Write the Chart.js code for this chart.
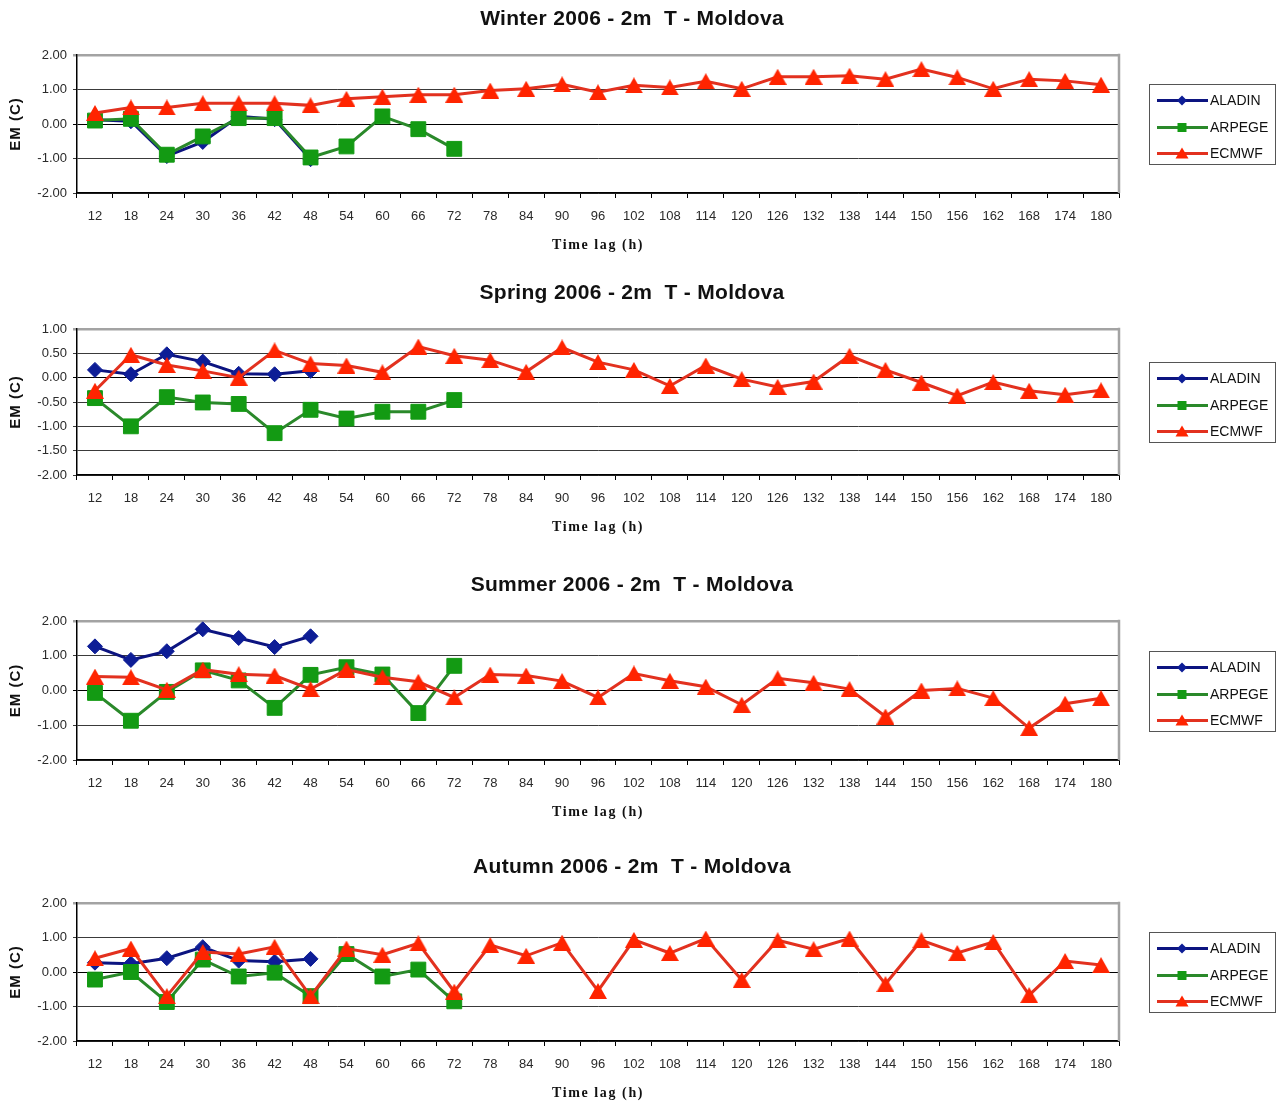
<!DOCTYPE html>
<html>
<head>
<meta charset="utf-8">
<title>2m T error by time lag - Moldova 2006</title>
<script src="https://cdn.jsdelivr.net/npm/chart.js@4/dist/chart.umd.min.js"></script>
<style>
  html, body { margin: 0; padding: 0; background: #fff; }
  #page { position: relative; width: 1279px; height: 1104px; overflow: hidden; background: #fff; }
  .panel { position: absolute; left: 0; width: 1279px; height: 276px; }
  .panel canvas { display: block; }
</style>
</head>
<body>
<div id="page">
  <div class="panel" id="panel0"><canvas id="chart0" width="1279" height="276"></canvas></div>
  <div class="panel" id="panel1"><canvas id="chart1" width="1279" height="276"></canvas></div>
  <div class="panel" id="panel2"><canvas id="chart2" width="1279" height="276"></canvas></div>
  <div class="panel" id="panel3"><canvas id="chart3" width="1279" height="276"></canvas></div>
</div>
<script>
// Forecast time lags (hours)
const timeLags = ['12','18','24','30','36','42','48','54','60','66','72','78','84','90','96',
                  '102','108','114','120','126','132','138','144','150','156','162','168','174','180'];

// Panel titles
const panelTitles = [
  'Winter 2006 - 2m  T - Moldova',
  'Spring 2006 - 2m  T - Moldova',
  'Summer 2006 - 2m  T - Moldova',
  'Autumn 2006 - 2m  T - Moldova'
];

// Mean error (deg C), winter
const winterAladin = [0.12, 0.08, -0.93, -0.52, 0.22, 0.14, -1.02];
const winterArpege = [0.10, 0.15, -0.89, -0.36, 0.17, 0.17, -0.97, -0.65, 0.22, -0.15, -0.72];
const winterEcmwf  = [0.32, 0.48, 0.48, 0.60, 0.60, 0.60, 0.54, 0.73, 0.79, 0.85, 0.85, 0.97, 1.02, 1.15, 0.92,
                      1.12, 1.06, 1.24, 1.02, 1.37, 1.37, 1.40, 1.30, 1.59, 1.35, 1.02, 1.30, 1.25, 1.14];

// Mean error (deg C), spring
const springAladin = [0.16, 0.07, 0.48, 0.33, 0.08, 0.07, 0.14];
const springArpege = [-0.42, -1.00, -0.40, -0.51, -0.54, -1.14, -0.66, -0.84, -0.70, -0.70, -0.46];
const springEcmwf  = [-0.27, 0.47, 0.26, 0.14, 0.00, 0.56, 0.29, 0.25, 0.11, 0.64, 0.45, 0.36, 0.12, 0.62, 0.32,
                      0.16, -0.17, 0.25, -0.03, -0.19, -0.08, 0.45, 0.16, -0.10, -0.37, -0.09, -0.27, -0.35, -0.26];

// Mean error (deg C), summer
const summerAladin = [1.27, 0.88, 1.13, 1.76, 1.51, 1.25, 1.56];
const summerArpege = [-0.07, -0.87, -0.04, 0.58, 0.29, -0.50, 0.45, 0.67, 0.46, -0.65, 0.71];
const summerEcmwf  = [0.40, 0.38, 0.02, 0.60, 0.47, 0.43, 0.04, 0.60, 0.38, 0.25, -0.20, 0.46, 0.43, 0.27, -0.20,
                      0.49, 0.28, 0.11, -0.41, 0.35, 0.22, 0.04, -0.75, 0.00, 0.06, -0.22, -1.08, -0.38, -0.22];

// Mean error (deg C), autumn
const autumnAladin = [0.27, 0.24, 0.40, 0.72, 0.33, 0.30, 0.38];
const autumnArpege = [-0.22, 0.00, -0.87, 0.36, -0.13, -0.02, -0.70, 0.52, -0.13, 0.07, -0.85];
const autumnEcmwf  = [0.40, 0.68, -0.70, 0.58, 0.52, 0.73, -0.70, 0.68, 0.50, 0.83, -0.57, 0.78, 0.47, 0.85, -0.55,
                      0.93, 0.55, 0.97, -0.23, 0.92, 0.66, 0.97, -0.35, 0.92, 0.55, 0.87, -0.67, 0.32, 0.20];

// Value axis ranges: [min, max, step]
const winterAxis = [-2, 2, 1];
const springAxis = [-2, 1, 0.5];
const summerAxis = [-2, 2, 1];
const autumnAxis = [-2, 2, 1];

const seriesNames = ['ALADIN', 'ARPEGE', 'ECMWF'];

// ---- layout (page pixels) ----
const plotTops    = [55, 329, 621, 903];
const plotHeights = [138, 146, 139, 138];
const CANVAS_H = 276;
const PAD_TOP = 55;
const AXIS_W = 77;
const PAD_RIGHT = 160;

// ---- styles ----
const STYLE = {
  ALADIN: { line: '#0c1480', fill: '#0d1d96', shape: 'diamond' },
  ARPEGE: { line: '#2a892a', fill: '#139a13', shape: 'square' },
  ECMWF:  { line: '#e2311f', fill: '#ff2400', shape: 'triangle' }
};

function triangleImage(fill, w, h) {
  const c = document.createElement('canvas');
  c.width = w; c.height = h;
  const g = c.getContext('2d');
  g.fillStyle = fill;
  g.beginPath();
  g.moveTo(w / 2, 0);
  g.lineTo(w, h);
  g.lineTo(0, h);
  g.closePath();
  g.fill();
  return c;
}
const triMarker = triangleImage(STYLE.ECMWF.fill, 18, 16);

function drawLegendMarker(ctx, shape, x, y, fill) {
  ctx.fillStyle = fill;
  ctx.beginPath();
  if (shape === 'diamond') {
    ctx.moveTo(x, y - 5); ctx.lineTo(x + 5, y); ctx.lineTo(x, y + 5); ctx.lineTo(x - 5, y);
  } else if (shape === 'square') {
    ctx.rect(x - 4.5, y - 4.5, 9, 9);
  } else {
    ctx.moveTo(x, y - 6); ctx.lineTo(x + 6.5, y + 5); ctx.lineTo(x - 6.5, y + 5);
  }
  ctx.closePath();
  ctx.fill();
}

// Titles, axis titles, right frame edge and the boxed legend
const panelDecor = {
  id: 'panelDecor',
  afterDraw(chart, args, opts) {
    const ctx = chart.ctx;
    const a = chart.chartArea;
    const midY = (a.top + a.bottom) / 2;
    ctx.save();

    // right edge of the plot frame
    ctx.strokeStyle = '#a3a3a3';
    ctx.lineWidth = 2.5;
    ctx.beginPath();
    ctx.moveTo(a.right, a.top - 1.25);
    ctx.lineTo(a.right, a.bottom);
    ctx.stroke();

    // chart title
    ctx.fillStyle = '#111';
    ctx.textAlign = 'center';
    ctx.textBaseline = 'middle';
    ctx.font = 'bold 21px "Liberation Sans", Arial, sans-serif';
    ctx.letterSpacing = '0.3px';
    ctx.fillText(opts.title, 632, a.top - 36);

    // x axis title
    ctx.font = 'bold 14px "Liberation Serif", "DejaVu Serif", serif';
    ctx.letterSpacing = '1.6px';
    ctx.fillText('Time lag (h)', (a.left + a.right) / 2, a.bottom + 52);
    ctx.letterSpacing = '0px';

    // y axis title
    ctx.save();
    ctx.translate(16, midY);
    ctx.rotate(-Math.PI / 2);
    ctx.font = 'bold 15px "Liberation Sans", Arial, sans-serif';
    ctx.letterSpacing = '1px';
    ctx.fillText('EM (C)', 0, 0);
    ctx.restore();
    ctx.letterSpacing = '0px';

    // legend box
    const bx = 1149, bw = 126, bh = 80, by = Math.round(midY - bh / 2) + 0.5;
    ctx.fillStyle = '#fff';
    ctx.fillRect(bx, by, bw, bh);
    ctx.strokeStyle = '#555';
    ctx.lineWidth = 1;
    ctx.strokeRect(bx + 0.5, by, bw, bh);
    const rows = [16, 43, 69];
    seriesNames.forEach((name, i) => {
      const st = STYLE[name];
      const y = by + rows[i];
      ctx.strokeStyle = st.line;
      ctx.lineWidth = 3;
      ctx.beginPath();
      ctx.moveTo(1157, y);
      ctx.lineTo(1208, y);
      ctx.stroke();
      drawLegendMarker(ctx, st.shape, 1182, y, st.fill);
      ctx.fillStyle = '#111';
      ctx.textAlign = 'left';
      ctx.textBaseline = 'middle';
      ctx.font = '14px "Liberation Sans", Arial, sans-serif';
      ctx.fillText(name, 1210, y + 0.5);
    });
    ctx.restore();
  }
};

function panelConfig(title, aladin, arpege, ecmwf, axis, plotH) {
  const [yMin, yMax, yStep] = axis;
  return {
    type: 'line',
    data: {
      labels: timeLags,
      datasets: [
        {
          label: 'ALADIN', data: aladin, order: 3,
          borderColor: STYLE.ALADIN.line, borderWidth: 3, tension: 0,
          pointStyle: 'rectRot', pointRadius: 7.5,
          pointBackgroundColor: STYLE.ALADIN.fill, pointBorderColor: STYLE.ALADIN.fill, pointBorderWidth: 1
        },
        {
          label: 'ARPEGE', data: arpege, order: 2,
          borderColor: STYLE.ARPEGE.line, borderWidth: 3, tension: 0,
          pointStyle: 'rect', pointRadius: 10.5,
          pointBackgroundColor: STYLE.ARPEGE.fill, pointBorderColor: STYLE.ARPEGE.fill, pointBorderWidth: 1
        },
        {
          label: 'ECMWF', data: ecmwf, order: 1,
          borderColor: STYLE.ECMWF.line, borderWidth: 3, tension: 0,
          pointStyle: triMarker, pointRadius: 9,
          pointBackgroundColor: STYLE.ECMWF.fill, pointBorderColor: STYLE.ECMWF.fill
        }
      ]
    },
    options: {
      responsive: false,
      animation: false,
      events: [],
      layout: { padding: { top: PAD_TOP, left: 0, right: PAD_RIGHT, bottom: 0 } },
      plugins: {
        legend: { display: false },
        title: { display: false },
        tooltip: { enabled: false },
        panelDecor: { title: title }
      },
      scales: {
        x: {
          type: 'category',
          offset: true,
          afterFit(scale) { scale.height = CANVAS_H - PAD_TOP - plotH; },
          grid: { display: true, offset: true, drawOnChartArea: false, drawTicks: true, tickLength: 5, color: '#000', lineWidth: 1 },
          border: { display: true, color: '#000', width: 1.5 },
          ticks: {
            autoSkip: false, maxRotation: 0, minRotation: 0, padding: 11,
            color: '#2a2a2a',
            font: { family: '"Liberation Sans Narrow", "Liberation Sans", Arial, sans-serif', size: 13 }
          }
        },
        y: {
          min: yMin, max: yMax,
          afterFit(scale) { scale.width = AXIS_W; },
          afterBuildTicks(scale) {
            const t = [];
            for (let v = yMin; v <= yMax + 1e-9; v += yStep) t.push({ value: Math.round(v * 100) / 100 });
            scale.ticks = t;
          },
          grid: {
            drawTicks: true, tickLength: 4,
            color: (c) => (c.tick && c.tick.value === yMax) ? '#a3a3a3' : ((c.tick && c.tick.value === 0) ? '#000' : '#3a3a3a'),
            lineWidth: (c) => (c.tick && c.tick.value === yMax) ? 2.5 : 1
          },
          border: { display: true, color: '#000', width: 1.5 },
          ticks: {
            padding: 6, color: '#2a2a2a',
            font: { family: '"Liberation Sans", Arial, sans-serif', size: 13 },
            callback: (v) => Number(v).toFixed(2)
          }
        }
      }
    },
    plugins: [panelDecor]
  };
}

const seasonAladin = [winterAladin, springAladin, summerAladin, autumnAladin];
const seasonArpege = [winterArpege, springArpege, summerArpege, autumnArpege];
const seasonEcmwf  = [winterEcmwf, springEcmwf, summerEcmwf, autumnEcmwf];
const seasonAxis   = [winterAxis, springAxis, summerAxis, autumnAxis];

for (let i = 0; i < 4; i++) {
  document.getElementById('panel' + i).style.top = (plotTops[i] - PAD_TOP) + 'px';
  new Chart(document.getElementById('chart' + i),
    panelConfig(panelTitles[i], seasonAladin[i], seasonArpege[i], seasonEcmwf[i], seasonAxis[i], plotHeights[i]));
}
</script>
</body>
</html>
